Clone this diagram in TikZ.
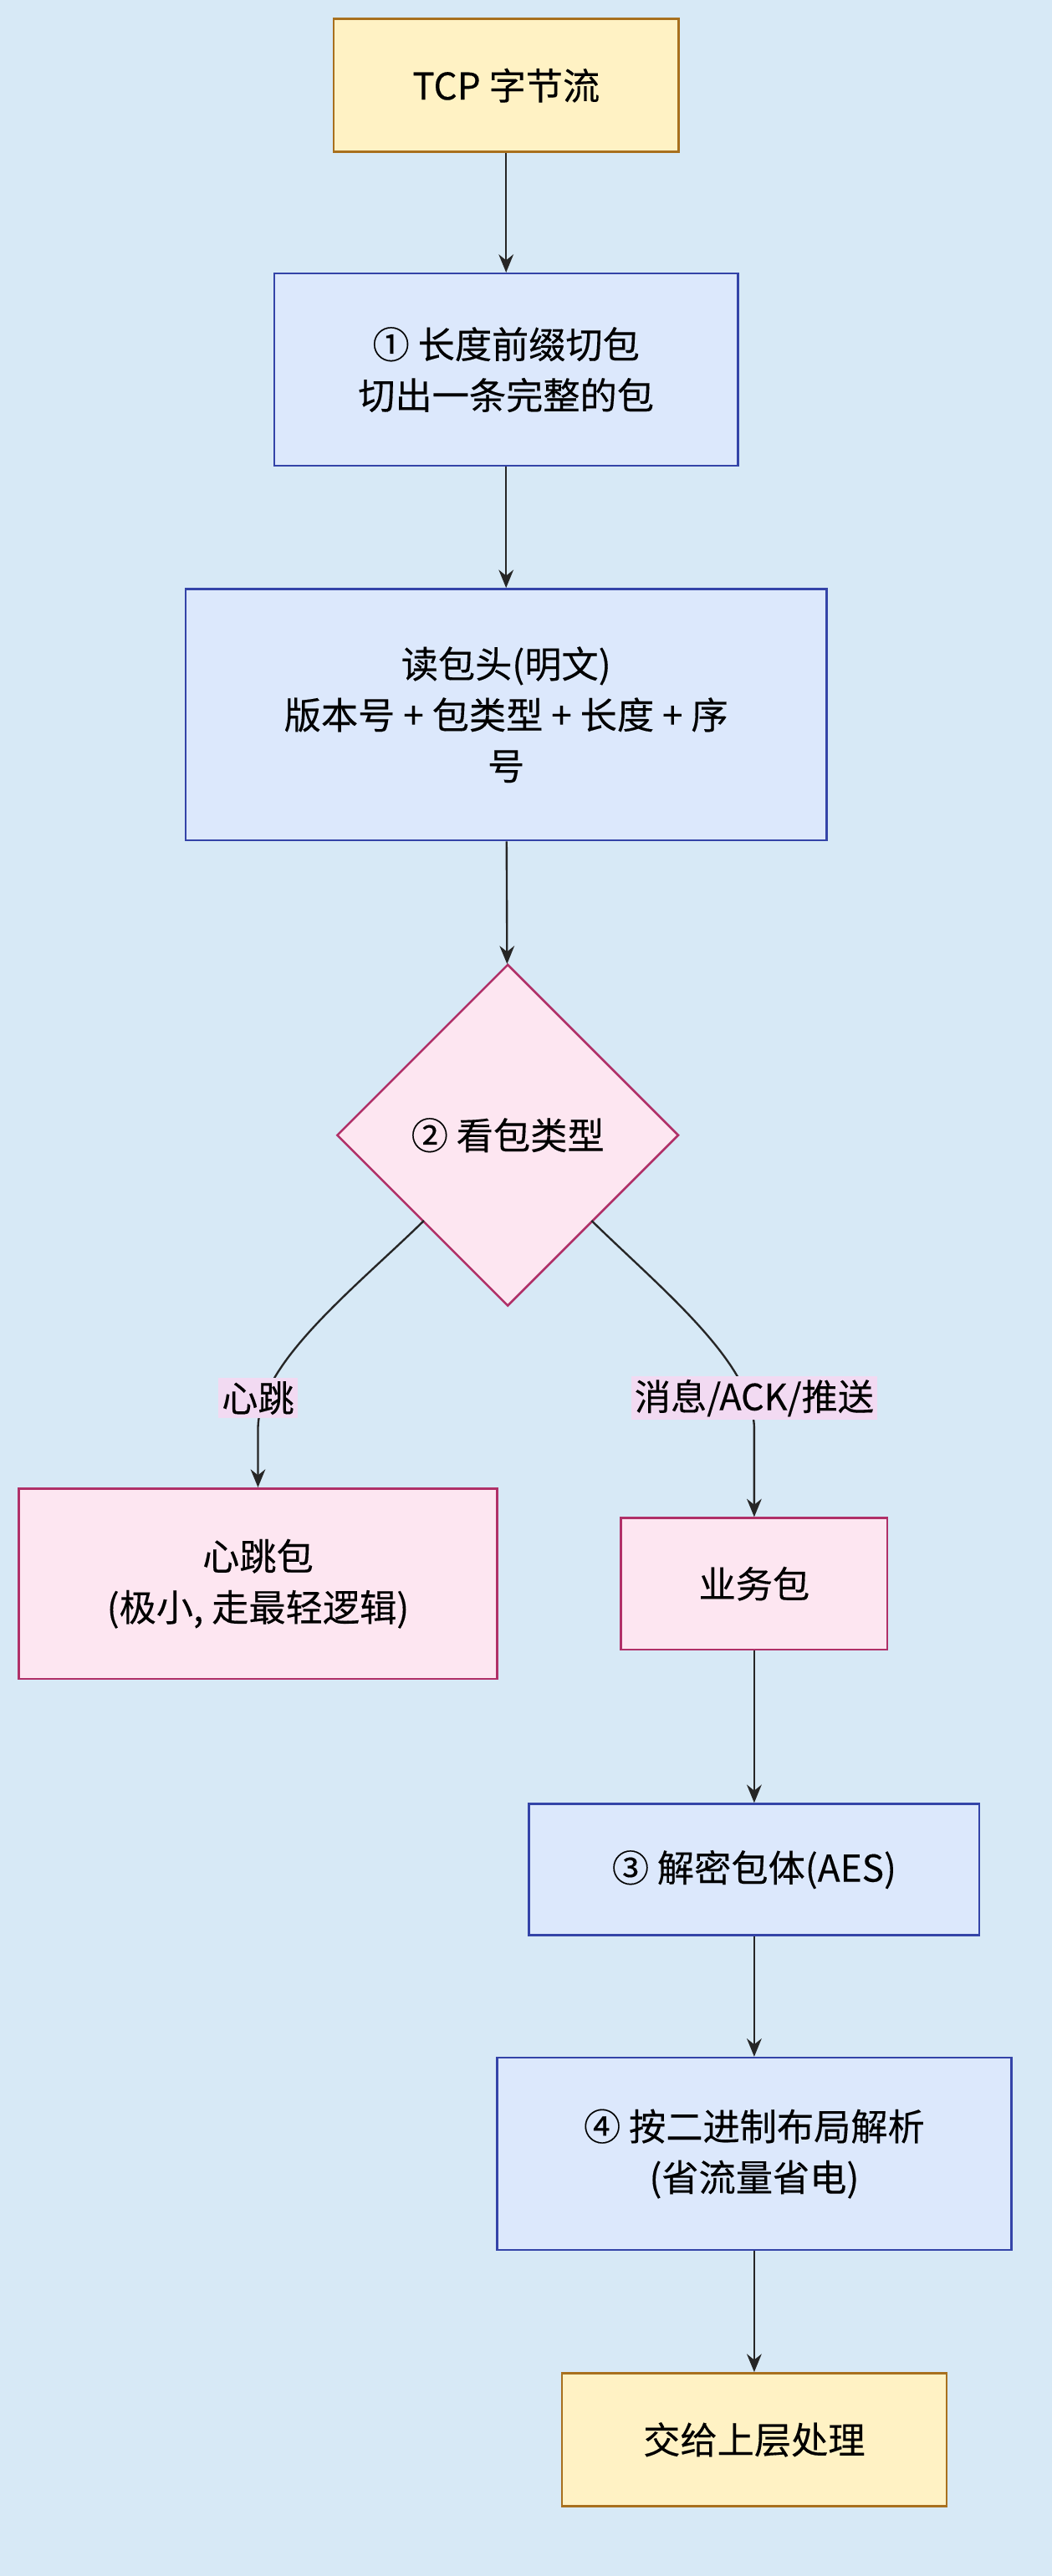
\documentclass[tikz,border=0pt]{standalone}
\usepackage{fontspec}
\setmainfont[BoldFont={Noto Sans CJK SC},BoldFeatures={FakeBold=0.25}]{Noto Sans CJK SC}
\usetikzlibrary{shapes.geometric,arrows.meta}
\definecolor{bg}{HTML}{D7E9F6}
\definecolor{bfill}{HTML}{DCE8FC}
\definecolor{bdraw}{HTML}{3444A8}
\definecolor{pfill}{HTML}{FDE6F1}
\definecolor{pdraw}{HTML}{B03068}
\definecolor{yfill}{HTML}{FFF2C4}
\definecolor{ydraw}{HTML}{A8701E}
\definecolor{lfill}{HTML}{F2DAF2}
\tikzset{x=1pt,y=-1pt,
 base/.style={align=center,font=\fontsize{22.5}{31}\selectfont\bfseries,line width=1.3pt,inner sep=0pt},
 bbox/.style={base,rectangle,fill=bfill,draw=bdraw},
 pbox/.style={base,rectangle,fill=pfill,draw=pdraw},
 ybox/.style={base,rectangle,fill=yfill,draw=ydraw},
 arr/.style={-{Stealth[length=11pt,width=9pt]},line width=1.2pt,draw=black!85},
 lab/.style={font=\fontsize{22}{24}\selectfont\bfseries,fill=lfill,inner sep=2pt}}
\begin{document}
\begin{tikzpicture}
\fill[bg] (0,0) rectangle (640,1568);
\useasboundingbox (0,0) rectangle (640,1568);
\node[ybox,minimum width=210,minimum height=81] (a) at (308,52) {TCP 字节流};
\node[bbox,minimum width=282,minimum height=117] (b) at (308,225) {① 长度前缀切包\\切出一条完整的包};
\node[bbox,minimum width=390,minimum height=153] (c) at (308,435) {读包头(明文)\\版本号 + 包类型 + 长度 + 序\\号};
\node[base,diamond,aspect=1,minimum size=208,fill=pfill,draw=pdraw] (d) at (309,691) {② 看包类型};
\node[pbox,minimum width=291,minimum height=116] (e) at (157,964) {心跳包\\(极小, 走最轻逻辑)};
\node[pbox,minimum width=162,minimum height=80] (f) at (459,964) {业务包};
\node[bbox,minimum width=274,minimum height=80] (g) at (459,1138) {③ 解密包体(AES)};
\node[bbox,minimum width=313,minimum height=117] (h) at (459,1311) {④ 按二进制布局解析\\(省流量省电)};
\node[ybox,minimum width=234,minimum height=81] (i) at (459,1485) {交给上层处理};
\draw[arr] (a) -- (b);
\draw[arr] (b) -- (c);
\draw[arr] (c) -- (d);
\coordinate (dl) at (258,743);
\coordinate (dr) at (360,743);
\draw[arr] (dl) .. controls (215,785) and (157,830) .. (157,870) -- (e.north);
\draw[arr] (dr) .. controls (403,785) and (459,830) .. (459,870) -- (f.north);
\node[lab] (l1) at (157,851) {心跳};
\node[lab] (l2) at (459,851) {消息/ACK/推送};
\draw[arr] (f) -- (g);
\draw[arr] (g) -- (h);
\draw[arr] (h) -- (i);
\end{tikzpicture}
\end{document}
